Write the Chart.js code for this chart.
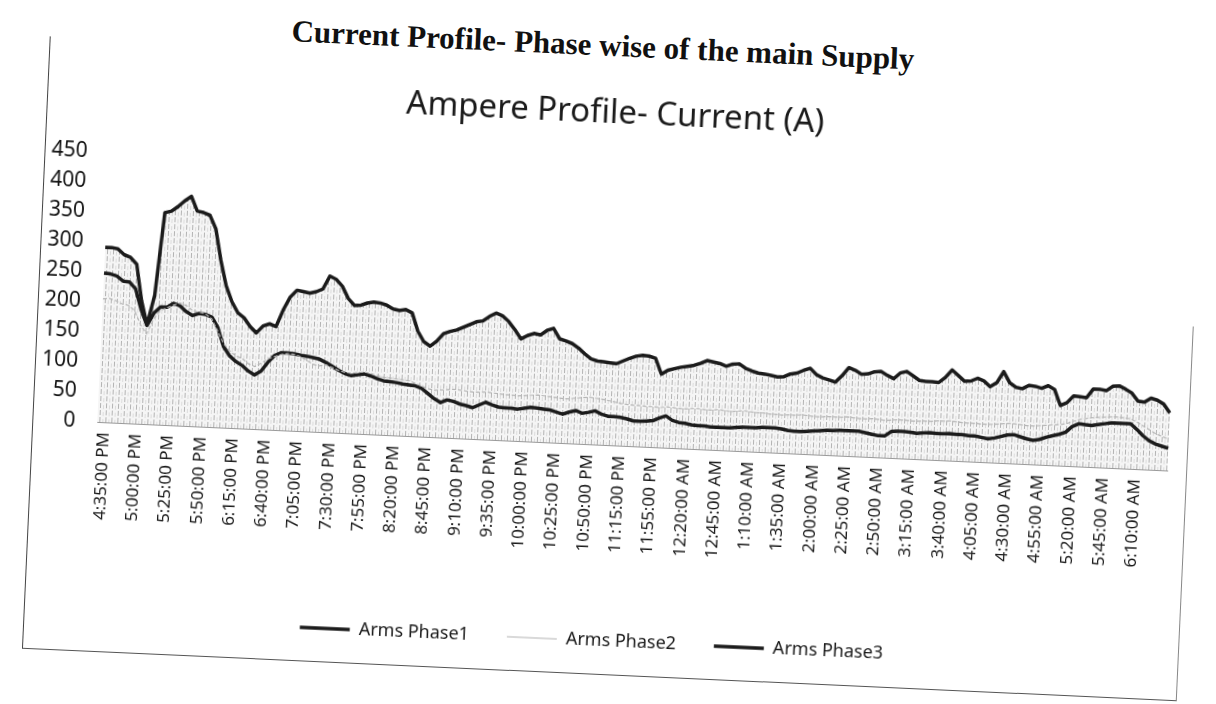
<!DOCTYPE html>
<html>
<head>
<meta charset="utf-8">
<title>Current Profile- Phase wise of the main Supply</title>
<script src="https://cdn.jsdelivr.net/npm/chart.js@4.4.1/dist/chart.umd.min.js"></script>
<style>
  html, body { margin: 0; padding: 0; background: #fff; }
  /* the scanned page is slightly tilted */
  #page { position: absolute; left: 0; top: 0; width: 1216px; height: 704px;
          transform: rotate(2.6deg); transform-origin: 608px 352px; }
  #docTitle { position: absolute; left: 189px; top: 28px; width: 800px; text-align: center;
              font: bold 31px "Liberation Serif", serif; color: #111; }
  #frame { position: absolute; left: 36px; top: 62px; width: 1155px; height: 612px;
           border-left: 1.5px solid #444; border-bottom: 1.5px solid #555; }
  #rightEdge { position: absolute; left: 1191px; top: 300px; width: 0; height: 374px;
               border-left: 1.5px solid #888; }
  #myChart { position: absolute; left: 0; top: 0; }
</style>
</head>
<body>
<div id="page">
  <div id="docTitle">Current Profile- Phase wise of the main Supply</div>
  <div id="frame">
    <canvas id="myChart" width="1155" height="612"></canvas>
  </div>
  <div id="rightEdge"></div>
</div>
<script>
// Tick labels shown on the x axis (every 5th sample)
const tickLabels = ['4:35:00 PM', '5:00:00 PM', '5:25:00 PM', '5:50:00 PM', '6:15:00 PM', '6:40:00 PM',
  '7:05:00 PM', '7:30:00 PM', '7:55:00 PM', '8:20:00 PM', '8:45:00 PM', '9:10:00 PM', '9:35:00 PM',
  '10:00:00 PM', '10:25:00 PM', '10:50:00 PM', '11:15:00 PM', '11:55:00 PM', '12:20:00 AM', '12:45:00 AM',
  '1:10:00 AM', '1:35:00 AM', '2:00:00 AM', '2:25:00 AM', '2:50:00 AM', '3:15:00 AM', '3:40:00 AM',
  '4:05:00 AM', '4:30:00 AM', '4:55:00 AM', '5:20:00 AM', '5:45:00 AM', '6:10:00 AM'];
const samplesPerTick = 5;
const extraAtEnd = 6;

// Arms values (A), one per 5 minute sample
const phase1 = [291, 291, 289, 280, 276, 265, 205, 165, 215, 353,
  356, 364, 374, 382, 358, 356, 352, 330, 278, 236,
  210, 192, 184, 170, 160, 172, 176, 172, 200, 222,
  234, 232, 230, 233, 238, 260, 255, 244, 224, 213,
  214, 218, 220, 219, 216, 210, 208, 210, 205, 175,
  158, 151, 160, 173, 177, 180, 185, 190, 195, 197,
  205, 211, 207, 198, 185, 170, 176, 180, 178, 186,
  190, 173, 170, 166, 159, 150, 142, 139, 138, 137,
  136, 141, 146, 150, 152, 151, 148, 122, 129, 132,
  135, 137, 139, 143, 148, 146, 144, 140, 144, 145,
  138, 134, 131, 130, 128, 126, 127, 132, 134, 139,
  143, 133, 128, 125, 122, 133, 147, 143, 137, 138,
  142, 143, 137, 132, 142, 145, 138, 131, 130, 130,
  129, 138, 151, 142, 133, 134, 139, 135, 126, 133,
  152, 134, 127, 125, 131, 130, 127, 132, 126, 100,
  105, 117, 116, 115, 130, 130, 128, 136, 137, 132,
  126, 113, 112, 119, 116, 110, 96];

const phase2 = [205, 206, 203, 198, 196, 188, 165, 150, 175, 190,
  195, 200, 204, 200, 192, 190, 188, 180, 160, 140,
  128, 120, 116, 108, 104, 110, 118, 122, 126, 128,
  127, 124, 118, 112, 110, 112, 108, 104, 101, 100,
  102, 103, 101, 98, 96, 95, 94, 93, 92, 88,
  84, 80, 78, 79, 80, 81, 80, 79, 78, 78,
  79, 78, 77, 76, 76, 75, 76, 77, 78, 77,
  76, 75, 74, 74, 76, 77, 78, 77, 76, 74,
  72, 70, 69, 68, 68, 67, 67, 66, 68, 67,
  66, 66, 67, 67, 66, 66, 67, 66, 65, 66,
  67, 66, 65, 65, 64, 64, 63, 64, 64, 65,
  64, 63, 63, 64, 64, 64, 65, 64, 63, 63,
  64, 63, 62, 63, 64, 64, 63, 63, 64, 64,
  65, 65, 66, 65, 64, 64, 64, 63, 63, 64,
  65, 66, 66, 65, 64, 64, 65, 66, 67, 68,
  70, 74, 78, 80, 82, 83, 84, 85, 85, 84,
  83, 78, 72, 66, 60, 56, 52];

const phase3 = [248, 247, 244, 236, 235, 224, 190, 164, 185, 196,
  196, 203, 199, 190, 184, 188, 187, 183, 166, 135,
  120, 111, 105, 96, 90, 97, 112, 124, 129, 129,
  128, 126, 125, 123, 121, 116, 110, 104, 99, 96,
  98, 100, 97, 93, 90, 89, 88, 86, 85, 84,
  80, 72, 64, 58, 63, 61, 57, 55, 52, 57,
  62, 58, 55, 54, 54, 53, 55, 57, 56, 55,
  54, 51, 48, 52, 55, 51, 53, 56, 51, 48,
  48, 47, 45, 42, 42, 43, 44, 49, 53, 46,
  43, 42, 40, 39, 39, 38, 38, 38, 38, 39,
  40, 40, 40, 41, 41, 41, 40, 38, 37, 37,
  38, 39, 40, 41, 41, 42, 42, 42, 42, 40,
  38, 36, 36, 44, 45, 45, 44, 43, 44, 45,
  44, 44, 45, 44, 44, 43, 43, 41, 39, 41,
  44, 47, 48, 45, 42, 40, 42, 46, 49, 52,
  56, 66, 71, 70, 69, 71, 73, 75, 75, 75,
  75, 66, 56, 48, 43, 40, 37];

const yTicks = [0, 50, 100, 150, 200, 250, 300, 350, 400, 450];

// Build the 5 minute sample times from the tick labels
function addMinutes(label, mins) {
  const m = label.match(/(\d+):(\d+):(\d+) (AM|PM)/);
  let h = parseInt(m[1]) % 12 + (m[4] === 'PM' ? 12 : 0);
  let total = (h * 60 + parseInt(m[2]) + mins) % 1440;
  h = Math.floor(total / 60);
  const mm = String(total % 60).padStart(2, '0');
  const ampm = h >= 12 ? 'PM' : 'AM';
  const h12 = h % 12 === 0 ? 12 : h % 12;
  return h12 + ':' + mm + ':00 ' + ampm;
}

let times = [];
tickLabels.forEach(function(t, k) {
  const n = k === tickLabels.length - 1 ? 1 + extraAtEnd : samplesPerTick;
  for (let j = 0; j < n; j++) times.push(addMinutes(t, j * 5));
});

// Faint vertical hatching seen under the top curve in the print
const hatch = document.createElement('canvas');
hatch.width = 6;
hatch.height = 7;
const hctx = hatch.getContext('2d');
hctx.fillStyle = 'rgba(0,0,0,0.04)';
hctx.fillRect(0, 0, 6, 7);
hctx.fillStyle = 'rgba(70,70,70,0.38)';
hctx.fillRect(0, 0, 1, 5);
hctx.fillStyle = 'rgba(90,90,90,0.16)';
hctx.fillRect(3, 2, 1, 4);
const hatchPattern = hctx.createPattern(hatch, 'repeat');

const ctx = document.getElementById('myChart');

let myChart = new Chart(ctx, {
  type: 'line',
  data: {
    labels: times,
    datasets: [{
      label: 'Arms Phase1',
      data: phase1,
      borderColor: '#1b1b1b',
      borderWidth: 3.5,
      backgroundColor: hatchPattern,
      fill: 'origin',
      pointRadius: 0,
      pointStyle: 'line',
      tension: 0,
      borderJoinStyle: 'round'
    }, {
      label: 'Arms Phase2',
      data: phase2,
      borderColor: '#b4b4b4',
      borderWidth: 1.2,
      borderDash: [4, 2],
      fill: false,
      pointRadius: 0,
      pointStyle: 'line',
      tension: 0
    }, {
      label: 'Arms Phase3',
      data: phase3,
      borderColor: '#1b1b1b',
      borderWidth: 3.5,
      fill: false,
      pointRadius: 0,
      pointStyle: 'line',
      tension: 0,
      borderJoinStyle: 'round'
    }]
  },
  options: {
    responsive: false,
    animation: false,
    layout: { padding: { left: 0, right: 20, top: 0, bottom: 14 } },
    plugins: {
      title: {
        display: true,
        text: 'Ampere Profile- Current (A)',
        color: '#1a1a1a',
        font: { family: 'Noto Sans', size: 33, weight: 'normal' },
        padding: { top: 32, bottom: 41 }
      },
      legend: {
        position: 'bottom',
        labels: {
          usePointStyle: true,
          pointStyleWidth: 50,
          padding: 38,
          color: '#1a1a1a',
          font: { family: 'Noto Sans', size: 18 }
        }
      },
      tooltip: { enabled: false },
      filler: { drawTime: 'beforeDatasetsDraw' }
    },
    scales: {
      x: {
        grid: { display: false, drawTicks: false },
        border: { color: '#9a9a9a' },
        ticks: {
          autoSkip: false,
          minRotation: 90,
          maxRotation: 90,
          padding: 10,
          labelOffset: 7,
          color: '#1a1a1a',
          font: { family: 'Noto Sans', size: 17 },
          callback: function(val, idx) {
            const k = idx / samplesPerTick;
            return Number.isInteger(k) && k < tickLabels.length ? this.getLabelForValue(val) : null;
          }
        },
        afterFit: function(scale) { scale.height = 149; }
      },
      y: {
        min: yTicks[0],
        max: yTicks[yTicks.length - 1],
        grid: { display: false, drawTicks: false },
        border: { display: false },
        afterBuildTicks: function(scale) { scale.ticks = yTicks.map(v => ({ value: v })); },
        ticks: { padding: 22, color: '#111', font: { family: 'Noto Sans', size: 21 } },
        afterFit: function(scale) { scale.width = 64; }
      }
    }
  }
});
</script>
</body>
</html>
